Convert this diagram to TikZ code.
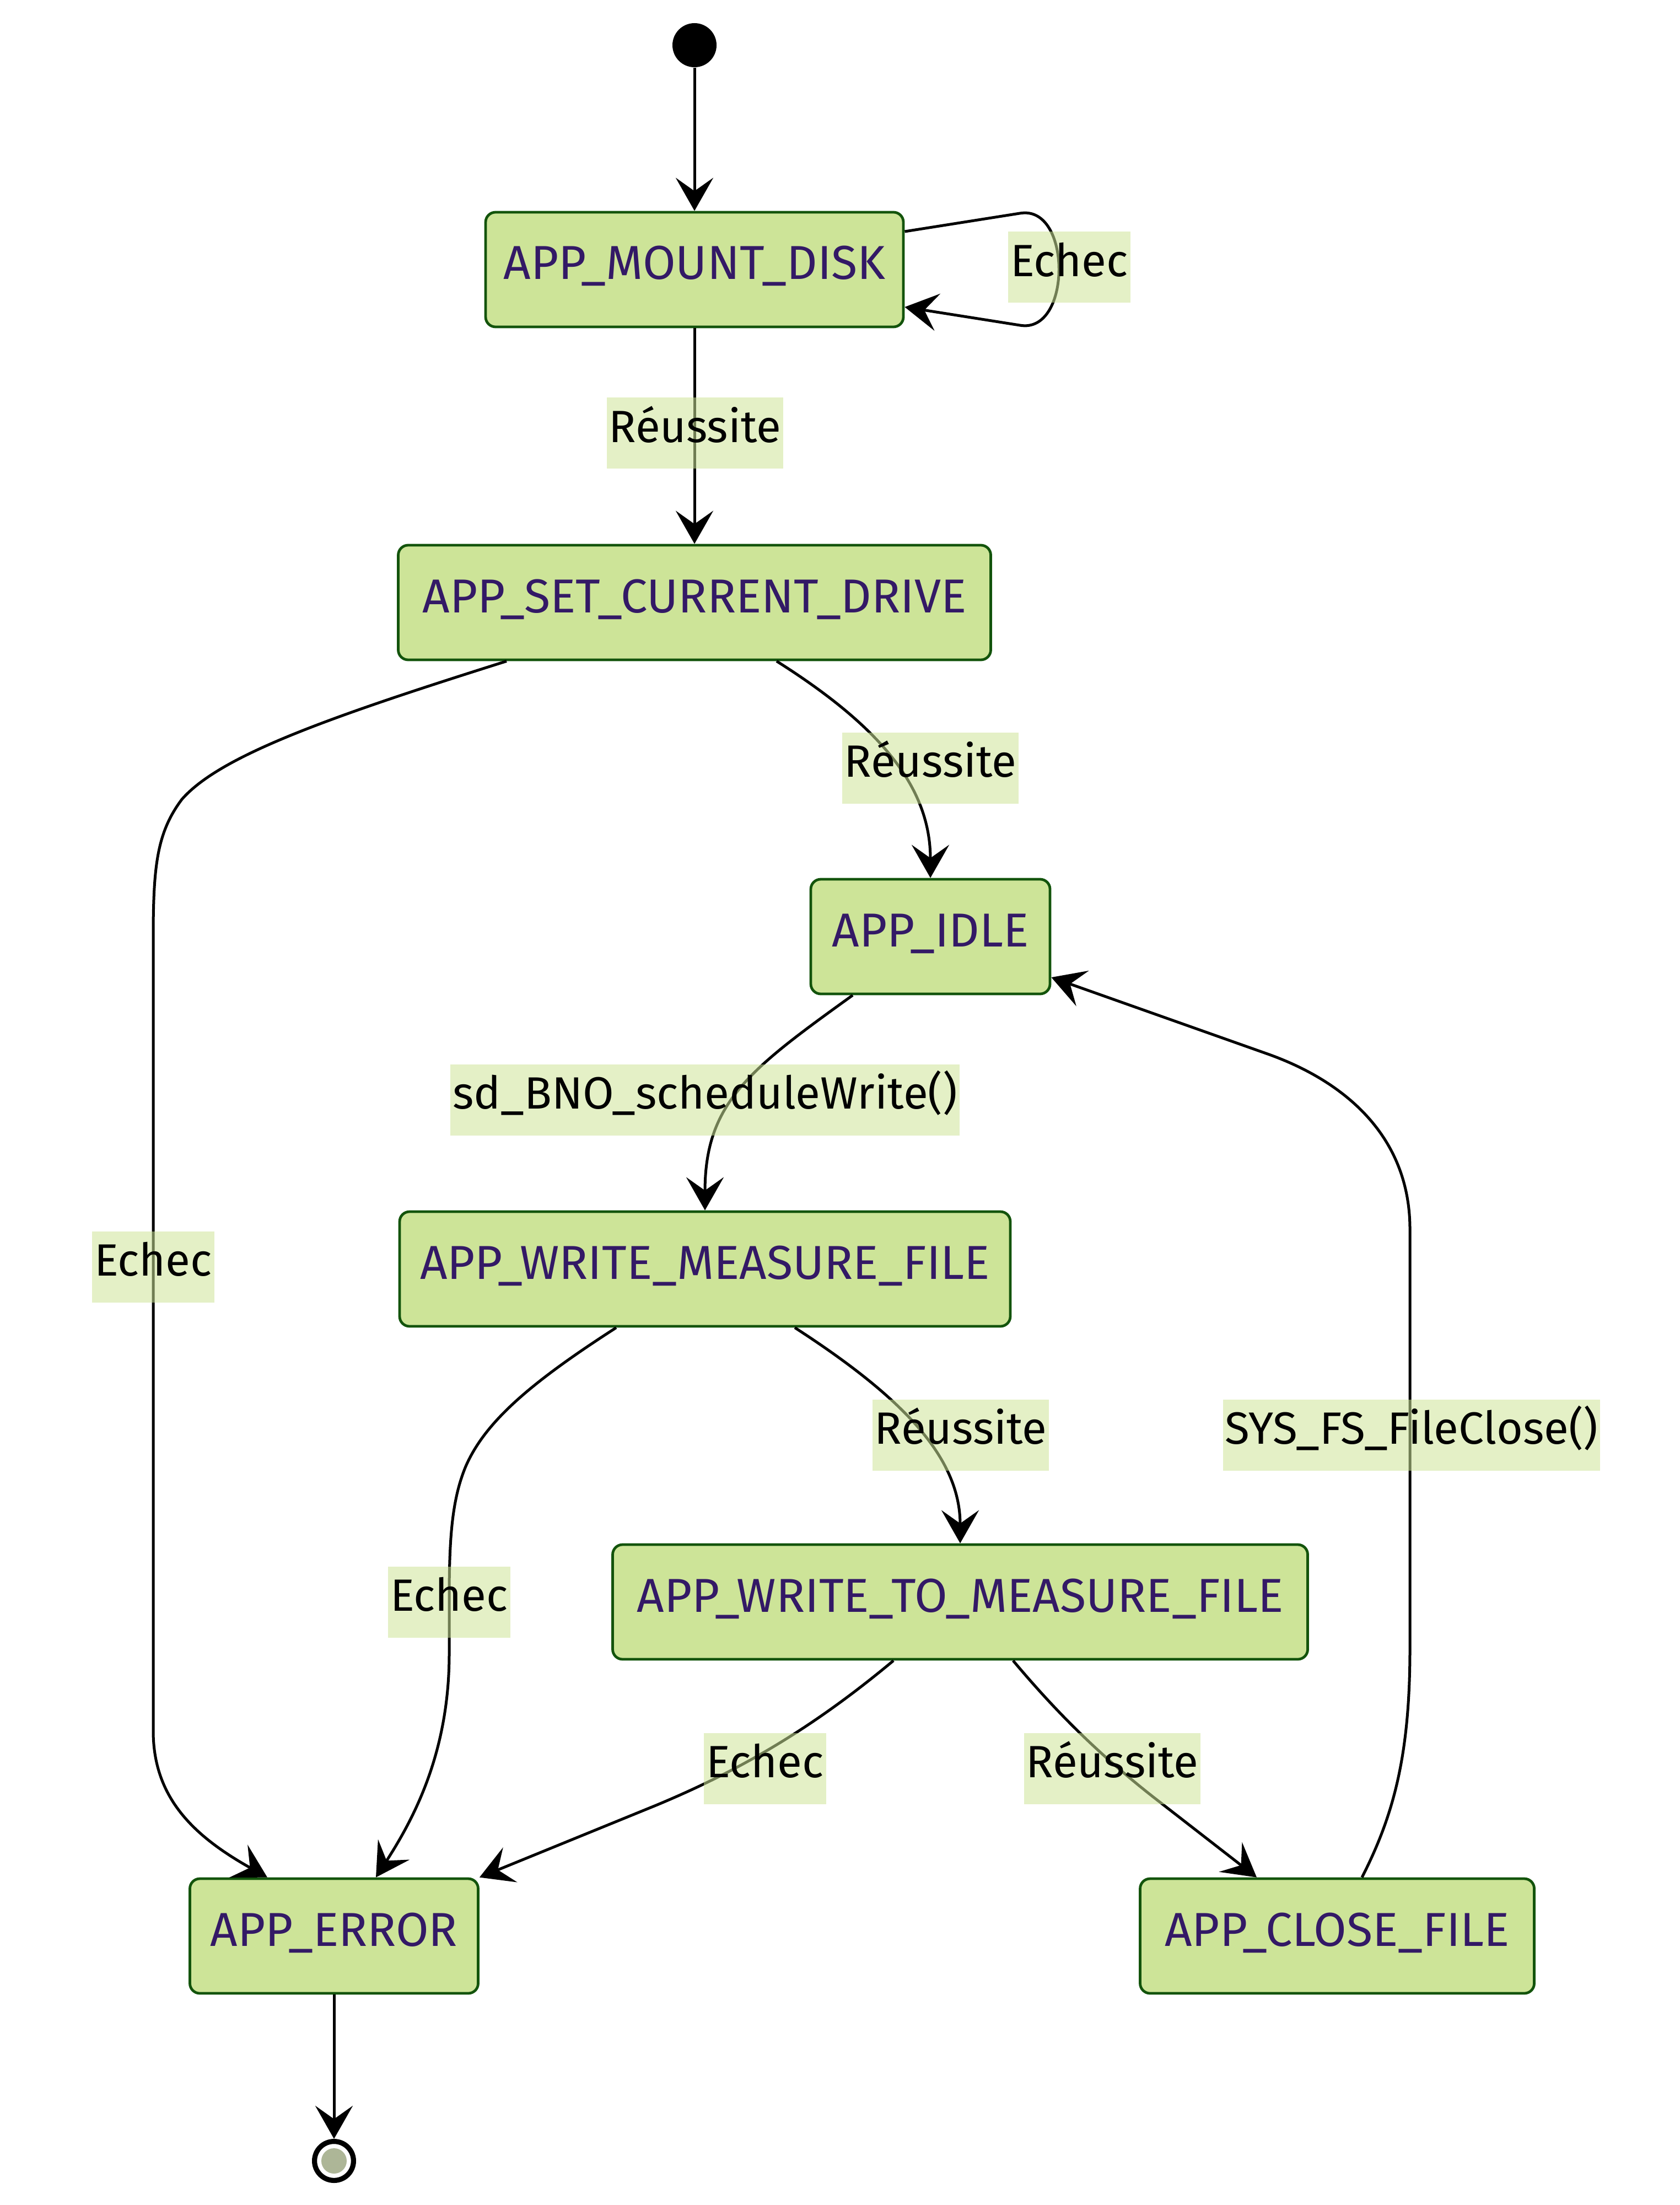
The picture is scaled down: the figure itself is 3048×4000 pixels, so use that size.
\documentclass[tikz,border=0pt]{standalone}
\usepackage{fontspec}
\setmainfont{Fira Sans}
\usepackage{tikz}
\usetikzlibrary{calc,arrows.meta}

\definecolor{statefill}{HTML}{CDE498}
\definecolor{stateline}{HTML}{13540C}
\definecolor{statetext}{HTML}{331966}
\definecolor{endfill}{HTML}{ADB697}

\tikzset{
  state/.style={rounded corners=4.5pt, draw=stateline, fill=statefill,
    line width=1.2pt, text=statetext, inner xsep=0pt, inner ysep=0pt,
    font=\fontsize{21.6pt}{25pt}\selectfont,
    text height=30.5pt, text depth=21.5pt},
  trlabel/.style={fill=statefill, fill opacity=0.55, text opacity=1,
    text=black, inner xsep=1pt, inner ysep=0pt,
    text height=20.25pt, text depth=12pt},
  trans/.style={line width=1.25pt, -{Stealth[length=15pt,width=17pt,inset=6pt]}}
}

\begin{document}
\begin{tikzpicture}[x=0.25pt,y=-0.25pt,font=\fontsize{20.5pt}{24pt}\selectfont]
  \useasboundingbox (0,0) rectangle (3048,4000);

  % states
  \node[circle, fill=black, minimum size=20pt, inner sep=0pt] (start) at (1260,82) {};
  \node[state, minimum width=189.5pt]  (mount) at (1260,489)  {APP\_MOUNT\_DISK};
  \node[state, minimum width=268.75pt] (drive) at (1260,1093) {APP\_SET\_CURRENT\_DRIVE};
  \node[state, minimum width=108.5pt]  (idle)  at (1688,1699) {APP\_IDLE};
  \node[state, minimum width=277pt]    (wfile) at (1279,2302) {APP\_WRITE\_MEASURE\_FILE};
  \node[state, minimum width=315.25pt] (wto)   at (1742,2906) {APP\_WRITE\_TO\_MEASURE\_FILE};
  \node[state, minimum width=130.75pt] (error) at (606,3512)  {APP\_ERROR};
  \node[state, minimum width=178.75pt] (close) at (2426,3512) {APP\_CLOSE\_FILE};
  \node[circle, draw=black, line width=2.3pt, fill=white, minimum size=17.7pt,
        inner sep=0pt] (stop) at (606,3920) {};
  \fill[endfill] (stop.center) circle (5.75pt);

  % transitions
  \draw[trans] (start.south) -- (mount.north);
  \draw[trans] ($(mount.east)+(0,-69)$) -- (1850,387)
        .. controls (1945,370) and (1945,607) .. (1850,590)
        -- ($(mount.east)+(0,68)$);
  \draw[trans] (mount.south) -- (drive.north);
  \draw[trans] ($(drive.south)+(149,0)$) .. controls (1600,1320) and (1688,1430) .. (idle.north);
  \draw[trans] ($(drive.south)+(-341,0)$) .. controls (600,1300) and (400,1370) .. (330,1450)
        .. controls (285,1510) and (278,1570) .. (278,1700) -- (278,3140)
        .. controls (278,3260) and (350,3330) .. ($(error.north)+(-121,0)$);
  \draw[trans] ($(idle.south)+(-141,0)$) .. controls (1360,1940) and (1279,2000) .. (wfile.north);
  \draw[trans] ($(wfile.south)+(163,0)$) .. controls (1630,2530) and (1742,2640) .. (wto.north);
  \draw[trans] ($(wfile.south)+(-161,0)$) .. controls (960,2510) and (880,2580) .. (845,2660)
        .. controls (820,2720) and (815,2790) .. (815,2900) -- (815,3000)
        .. controls (815,3180) and (750,3300) .. ($(error.north)+(76,0)$);
  \draw[trans] ($(wto.south)+(-121,0)$) .. controls (1480,3130) and (1351,3208) .. (1190,3275)
        -- (error.north east);
  \draw[trans] ($(wto.south)+(96,0)$) .. controls (1920,3110) and (1995,3183) .. (2090,3258)
        -- ($(close.north)+(-146,0)$);
  \draw[trans] ($(close.north)+(45,0)$) .. controls (2530,3290) and (2558,3180) .. (2558,2990)
        -- (2558,2230) .. controls (2558,2060) and (2438,1961) .. (2300,1912)
        -- ($(idle.east)+(0,74)$);
  \draw[trans] (error.south) -- (stop.north);

  % labels
  \node[trlabel] (l-mount) at (1940,485)  {Echec};
  \node[trlabel] (l-drive) at (1261,786)  {Réussite};
  \node[trlabel] (l-idle)  at (1688,1393) {Réussite};
  \node[trlabel] (l-derr)  at (278,2298)  {Echec};
  \node[trlabel] (l-write) at (1279,1995) {sd\_BNO\_scheduleWrite()};
  \node[trlabel] (l-wto)   at (1743,2603) {Réussite};
  \node[trlabel] (l-close) at (2561,2603) {SYS\_FS\_FileClose()};
  \node[trlabel] (l-ferr)  at (815,2906)  {Echec};
  \node[trlabel] (l-terr)  at (1388,3208) {Echec};
  \node[trlabel] (l-tcls)  at (2018,3208) {Réussite};
\end{tikzpicture}
\end{document}
